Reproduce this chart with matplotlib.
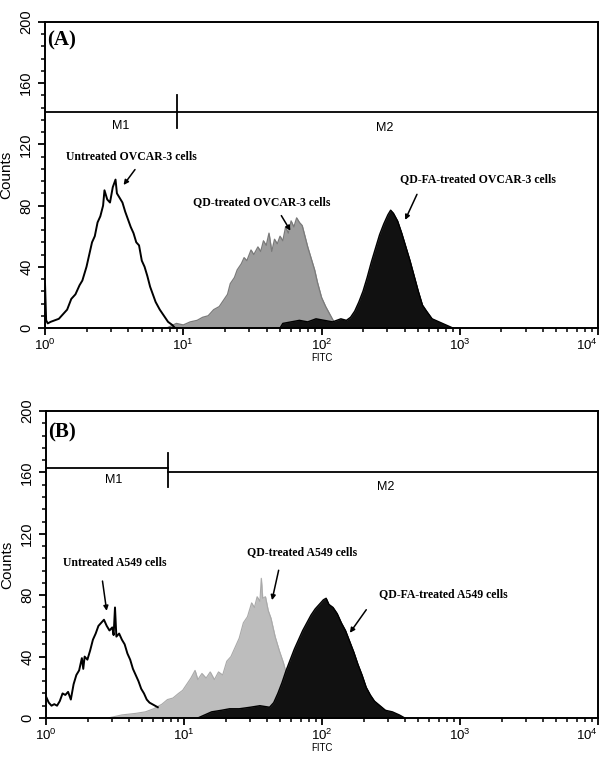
"""Flow cytometry histograms (FITC) for OVCAR-3 and A549 cells, two stacked panels."""
import matplotlib
matplotlib.use("Agg")
import matplotlib.pyplot as plt
import numpy as np
from matplotlib.ticker import FixedLocator, LogLocator, NullFormatter

plt.rcParams["font.family"] = ["Liberation Sans", "DejaVu Sans"]

# --- panel A: OVCAR-3 (x in log10 FITC decades, y in counts) ---
a_untreated_log = [0.0, 0.0, 0.008, 0.02, 0.04, 0.07, 0.10, 0.13, 0.16, 0.19, 0.22, 0.25, 0.27,
                   0.30, 0.32, 0.34, 0.36, 0.38, 0.40, 0.42, 0.43, 0.45, 0.47, 0.49, 0.51, 0.52,
                   0.54, 0.56, 0.58, 0.60, 0.62, 0.64, 0.66, 0.68, 0.70, 0.72, 0.74, 0.76, 0.78,
                   0.80, 0.83, 0.86, 0.89, 0.92, 0.94]
a_untreated_cnt = [0, 29, 5, 3, 4, 5, 6, 9, 12, 19, 22, 28, 31, 40, 48, 56, 60, 69, 73, 80, 90,
                   84, 82, 92, 97, 88, 85, 82, 76, 71, 66, 62, 56, 54, 44, 40, 34, 27, 22, 17, 12,
                   8, 4, 2, 0]
a_qd_log = [0.88, 0.95, 1.0, 1.05, 1.10, 1.14, 1.18, 1.22, 1.26, 1.29, 1.32, 1.34, 1.37, 1.39,
            1.42, 1.44, 1.46, 1.49, 1.51, 1.54, 1.56, 1.58, 1.60, 1.62, 1.64, 1.66, 1.68, 1.70,
            1.72, 1.74, 1.76, 1.78, 1.80, 1.82, 1.84, 1.86, 1.88, 1.90, 1.92, 1.95, 1.97, 2.00,
            2.03, 2.06, 2.09, 2.12]
a_qd_cnt = [0, 3, 2, 4, 5, 7, 8, 12, 14, 18, 22, 29, 33, 38, 42, 46, 44, 51, 48, 53, 50, 57, 54,
            62, 50, 58, 55, 60, 57, 66, 62, 70, 66, 72, 69, 67, 60, 53, 47, 38, 30, 20, 14, 9, 4, 0]
a_qdfa_log = [1.70, 1.72, 1.78, 1.84, 1.90, 1.96, 2.02, 2.08, 2.14, 2.18, 2.21, 2.24, 2.27, 2.30,
              2.33, 2.36, 2.39, 2.42, 2.45, 2.48, 2.50, 2.52, 2.55, 2.58, 2.61, 2.64, 2.67, 2.70,
              2.73, 2.76, 2.80, 2.85, 2.90, 2.95]
a_qdfa_cnt = [0, 3, 4, 5, 4, 6, 5, 4, 6, 5, 7, 11, 17, 24, 33, 43, 52, 61, 68, 74, 77, 75, 70, 62,
              53, 44, 34, 24, 15, 11, 6, 4, 2, 0]

# --- panel B: A549 ---
b_untreated_log = [0.0, 0.02, 0.04, 0.06, 0.08, 0.10, 0.12, 0.14, 0.16, 0.18, 0.20, 0.22, 0.24,
                   0.26, 0.27, 0.28, 0.30, 0.32, 0.34, 0.36, 0.38, 0.40, 0.42, 0.44, 0.46, 0.48,
                   0.49, 0.50, 0.51, 0.53, 0.55, 0.57, 0.59, 0.61, 0.63, 0.65, 0.67, 0.69, 0.71,
                   0.73, 0.75, 0.77, 0.79, 0.81]
b_untreated_cnt = [14, 10, 8, 9, 8, 11, 16, 15, 17, 12, 22, 28, 31, 39, 32, 40, 38, 44, 51, 55,
                   60, 62, 64, 60, 57, 59, 54, 72, 53, 55, 51, 48, 42, 38, 32, 28, 24, 19, 16, 12,
                   10, 9, 8, 7]
b_qd_log = [0.45, 0.55, 0.65, 0.72, 0.78, 0.84, 0.88, 0.92, 0.96, 0.99, 1.02, 1.05, 1.08, 1.10,
            1.13, 1.16, 1.19, 1.22, 1.25, 1.28, 1.31, 1.34, 1.37, 1.40, 1.43, 1.46, 1.49, 1.51,
            1.53, 1.55, 1.56, 1.57, 1.59, 1.61, 1.63, 1.66, 1.69, 1.72, 1.75, 1.79, 1.84]
b_qd_cnt = [0, 2, 3, 4, 6, 9, 12, 13, 16, 18, 22, 26, 31, 25, 29, 26, 30, 25, 30, 28, 37, 40, 46,
            52, 62, 66, 75, 72, 79, 76, 91, 78, 79, 70, 65, 53, 44, 36, 26, 12, 0]
b_qdfa_log = [1.10, 1.15, 1.20, 1.27, 1.33, 1.40, 1.48, 1.55, 1.62, 1.65, 1.68, 1.71, 1.74, 1.77,
              1.80, 1.83, 1.86, 1.89, 1.92, 1.95, 1.98, 2.01, 2.03, 2.05, 2.08, 2.11, 2.14, 2.17,
              2.20, 2.23, 2.26, 2.29, 2.32, 2.35, 2.38, 2.42, 2.46, 2.51, 2.56, 2.60]
b_qdfa_cnt = [0, 2, 4, 5, 6, 6, 7, 8, 7, 10, 16, 23, 31, 38, 45, 51, 57, 62, 67, 71, 74, 77, 78,
              74, 72, 68, 62, 57, 50, 43, 35, 28, 20, 15, 11, 8, 5, 4, 2, 0]

# marker gates: (left level, right level, divider FITC, divider span)
a_gate = (141, 141, 9.0, (130.5, 152))
b_gate = (163, 160, 7.65, (150.5, 172.5))

SERIF = dict(family=["Liberation Serif", "DejaVu Serif"], fontweight="bold")


def _style(ax):
    ax.set_xscale("log")
    ax.set_xlim(1, 1e4)
    ax.set_ylim(0, 200)
    ax.xaxis.set_major_locator(FixedLocator([1, 10, 100, 1000, 10000]))
    ax.yaxis.set_major_locator(FixedLocator([0, 40, 80, 120, 160, 200]))
    ax.yaxis.set_minor_locator(FixedLocator(np.arange(0, 201, 8)))
    ax.xaxis.set_minor_locator(LogLocator(base=10, subs=np.arange(2, 10)))
    ax.xaxis.set_minor_formatter(NullFormatter())
    ax.tick_params(which="major", direction="out", length=5, width=1.3, labelsize=10.5)
    ax.tick_params(which="minor", direction="out", length=3, width=1.1)
    ax.tick_params(axis="x", labelsize=9.5, pad=2)
    for lab in ax.get_yticklabels():
        lab.set_rotation(90)
        lab.set_va("center")
    # the 10^4 label sits at the figure edge; pull it inward
    ax.xaxis.get_major_ticks()[-1].label1.set_ha("right")
    for sp in ax.spines.values():
        sp.set_linewidth(1.4)
    ax.set_ylabel("Counts", fontsize=11, labelpad=4)
    ax.set_xlabel("FITC", fontsize=7, labelpad=0)


def _gate(ax, gate, m1x, m1y, m2x, m2y):
    left, right, div, span = gate
    ax.plot([1, div], [left, left], color="black", lw=1.3)
    ax.plot([div, 1e4], [right, right], color="black", lw=1.3)
    ax.plot([div, div], span, color="black", lw=1.3)
    ax.text(m1x, m1y, "M1", fontsize=9, ha="center", va="center")
    ax.text(m2x, m2y, "M2", fontsize=9, ha="center", va="center")


def _note(ax, text, xy, xytext, tail):
    ax.annotate("", xy=xy, xytext=tail,
                arrowprops=dict(arrowstyle="-|>", color="black", lw=1.1, mutation_scale=7))
    ax.text(xytext[0], xytext[1], text, fontsize=8.5, ha="center", va="center", **SERIF)


def _hist(ax, logs, cnts, fill, edge, lw, z):
    x = 10 ** np.array(logs)
    ax.fill_between(x, cnts, facecolor=fill, edgecolor=fill, lw=0.4, zorder=z)
    ax.plot(x, cnts, color=edge, lw=lw, zorder=z + 0.1)


def main():
    fig = plt.figure(figsize=(6.06, 7.58), dpi=100)
    ax_a = fig.add_axes([0.0743, 0.5673, 0.9125, 0.4037])
    ax_b = fig.add_axes([0.0759, 0.0528, 0.9109, 0.4050])

    # panel A
    _hist(ax_a, a_qd_log, a_qd_cnt, "#9c9c9c", "#7a7a7a", 0.9, 1.0)
    _hist(ax_a, a_qdfa_log, a_qdfa_cnt, "#111111", "black", 1.0, 1.5)
    ax_a.plot(10 ** np.array(a_untreated_log), a_untreated_cnt, color="black", lw=1.4, zorder=2)
    _style(ax_a)
    _gate(ax_a, a_gate, 3.5, 132, 288, 131)
    ax_a.text(1.03, 188, "(A)", fontsize=15, ha="left", va="center", **SERIF)
    _note(ax_a, "Untreated OVCAR-3 cells", (3.6, 92), (4.2, 112), (4.6, 105))
    _note(ax_a, "QD-treated OVCAR-3 cells", (61, 62), (37, 82), (50, 75))
    _note(ax_a, "QD-FA-treated OVCAR-3 cells", (395, 69), (1350, 97), (500, 89))

    # panel B
    _hist(ax_b, b_qd_log, b_qd_cnt, "#bdbdbd", "#a9a9a9", 0.8, 1.0)
    _hist(ax_b, b_qdfa_log, b_qdfa_cnt, "#111111", "black", 1.0, 1.5)
    ax_b.plot(10 ** np.array(b_untreated_log), b_untreated_cnt, color="black", lw=1.4, zorder=2)
    _style(ax_b)
    _gate(ax_b, b_gate, 3.1, 155, 288, 150.5)
    ax_b.text(1.03, 186, "(B)", fontsize=15, ha="left", va="center", **SERIF)
    _note(ax_b, "Untreated A549 cells", (2.77, 68), (3.16, 101), (2.55, 91))
    _note(ax_b, "QD-treated A549 cells", (43, 75), (72, 108), (49, 98))
    _note(ax_b, "QD-FA-treated A549 cells", (155, 54), (753, 81), (215, 72))

    fig.savefig("out.png", dpi=100)


if __name__ == "__main__":
    main()
